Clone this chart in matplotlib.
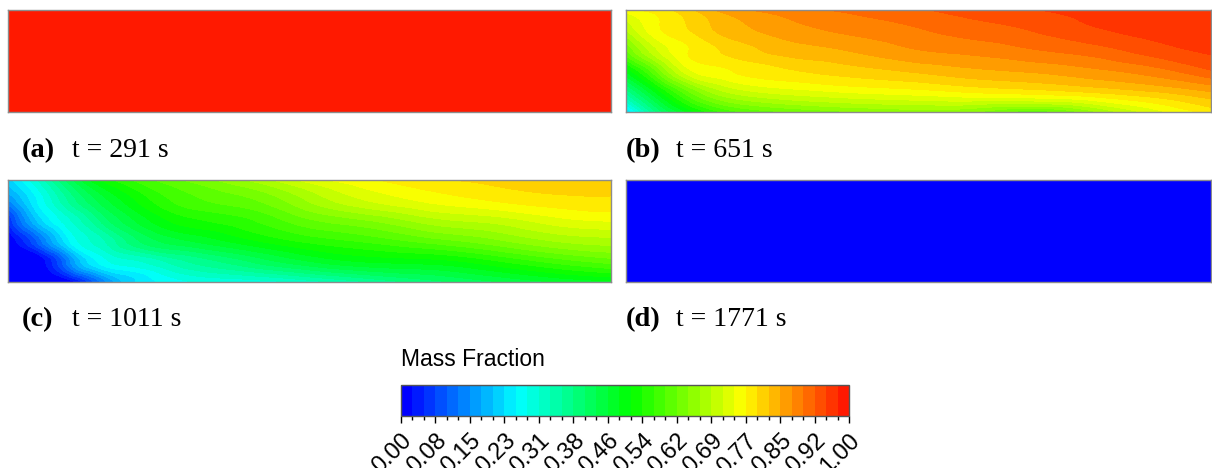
import numpy as np
import matplotlib
matplotlib.use("Agg")
import matplotlib.pyplot as plt
import matplotlib.tri as mtri
from matplotlib.colorbar import Colorbar
from matplotlib.colors import ListedColormap, Normalize, hsv_to_rgb
from matplotlib.ticker import FixedLocator

plt.rcParams['font.family'] = 'Liberation Serif'

# malla de muestreo (fracciones del dominio, y = 0 arriba)
x_frac = [0, 0.05, 0.1, 0.15, 0.2, 0.3, 0.4, 0.5, 0.6, 0.7, 0.8, 0.9, 1.0]
y_frac = [0, 0.2, 0.4, 0.6, 0.8, 1.0]

mass_a = 1.0
mass_b = [
    [0.76, 0.78, 0.808, 0.846, 0.868, 0.89, 0.905, 0.92, 0.935, 0.948, 0.955, 0.962, 0.97],
    [0.69, 0.76, 0.79, 0.82, 0.84, 0.865, 0.88, 0.895, 0.91, 0.925, 0.945, 0.955, 0.962],
    [0.61, 0.71, 0.765, 0.79, 0.81, 0.835, 0.85, 0.87, 0.88, 0.895, 0.91, 0.935, 0.952],
    [0.49, 0.61, 0.725, 0.76, 0.775, 0.795, 0.81, 0.825, 0.84, 0.85, 0.865, 0.885, 0.92],
    [0.37, 0.49, 0.60, 0.675, 0.71, 0.735, 0.75, 0.76, 0.775, 0.785, 0.80, 0.82, 0.846],
    [0.22, 0.38, 0.48, 0.55, 0.59, 0.62, 0.64, 0.65, 0.64, 0.60, 0.66, 0.73, 0.78],
]
mass_c = [
    [0.22, 0.31, 0.42, 0.51, 0.56, 0.62, 0.67, 0.73, 0.765, 0.79, 0.80, 0.805, 0.80],
    [0.15, 0.26, 0.36, 0.44, 0.50, 0.58, 0.61, 0.67, 0.72, 0.75, 0.77, 0.785, 0.79],
    [0.05, 0.21, 0.30, 0.38, 0.45, 0.53, 0.56, 0.61, 0.64, 0.68, 0.70, 0.73, 0.745],
    [0.0, 0.11, 0.25, 0.32, 0.39, 0.46, 0.505, 0.545, 0.57, 0.60, 0.63, 0.665, 0.68],
    [0.0, 0.0, 0.14, 0.26, 0.30, 0.36, 0.41, 0.46, 0.49, 0.50, 0.53, 0.57, 0.60],
    [0.0, 0.0, 0.0, 0.12, 0.22, 0.28, 0.29, 0.32, 0.36, 0.40, 0.43, 0.46, 0.48],
]
mass_d = 0.0

etiquetas = ["(a)", "(b)", "(c)", "(d)"]
tiempos = ["t = 291 s", "t = 651 s", "t = 1011 s", "t = 1771 s"]
tick_vals = np.linspace(0, 1, 14)
tick_labels = [f"{v:.2f}" for v in tick_vals]

# mapa de colores por bandas (estilo Fluent)
n_bandas = 39
hues = (240 - 234 * np.arange(n_bandas) / (n_bandas - 1)) / 360
colores = hsv_to_rgb(np.column_stack([hues, np.ones(n_bandas), np.ones(n_bandas)]))
cmap = ListedColormap(colores)
cmap.set_under(colores[0])
cmap.set_over(colores[-1])
norm = Normalize(0, 1)
niveles = np.linspace(0, 1, n_bandas + 1)

W, H = 1212, 468
fig = plt.figure(figsize=(W / 100, H / 100), dpi=100)

def caja(x0, y0, x1, y1):
    return [x0 / W, 1 - y1 / H, (x1 - x0) / W, (y1 - y0) / H]

cajas = [caja(8, 10, 611, 112), caja(626, 10, 1211, 112),
         caja(8, 180, 611, 282), caja(626, 180, 1211, 282)]
campos = [mass_a, mass_b, mass_c, mass_d]
pos_texto = [(22, 157), (626, 157), (22, 326), (626, 326)]

X, Y = np.meshgrid(x_frac, y_frac)
triang = mtri.Triangulation(X.ravel(), Y.ravel())
refiner = mtri.UniformTriRefiner(triang)

for i in range(4):
    ax = fig.add_axes(cajas[i])
    campo = campos[i]
    if np.ndim(campo) == 0:
        ax.imshow([[campo]], cmap=cmap, norm=norm, extent=[0, 1, 1, 0], aspect='auto')
    else:
        tri_f, z_f = refiner.refine_field(np.array(campo).ravel(), subdiv=4)
        ax.tricontourf(tri_f, z_f, levels=niveles, cmap=cmap, norm=norm, extend='both')
    ax.set_xlim(0, 1)
    ax.set_ylim(1, 0)
    ax.set_xticks([])
    ax.set_yticks([])
    for s in ax.spines.values():
        s.set_color('#8c8c8c')
        s.set_linewidth(1)
    px, py = pos_texto[i]
    fig.text(px / W, 1 - py / H, etiquetas[i], fontsize=20.5, fontweight='bold', va='baseline')
    fig.text((px + 50) / W, 1 - py / H, tiempos[i], fontsize=20, va='baseline')

# barra de colores
cax = fig.add_axes(caja(401, 385, 849, 416))
cb = Colorbar(cax, cmap=cmap, norm=norm, boundaries=niveles, orientation='horizontal')
cb.outline.set_edgecolor('#555555')
cb.outline.set_linewidth(1)
cax.xaxis.set_major_locator(FixedLocator(tick_vals))
cax.xaxis.set_minor_locator(FixedLocator(niveles))
cax.set_xticklabels(tick_labels, family='Liberation Sans', fontsize=17,
                    rotation=45, ha='right', va='top', rotation_mode='anchor')
cax.tick_params(which='major', length=5, width=1, direction='out', pad=5)
cax.tick_params(which='minor', length=3, width=1, direction='out')
fig.text(401 / W, 1 - 366 / H, "Mass Fraction", family='Liberation Sans',
         fontsize=16.5, va='baseline')

fig.savefig("out.png", dpi=100)
